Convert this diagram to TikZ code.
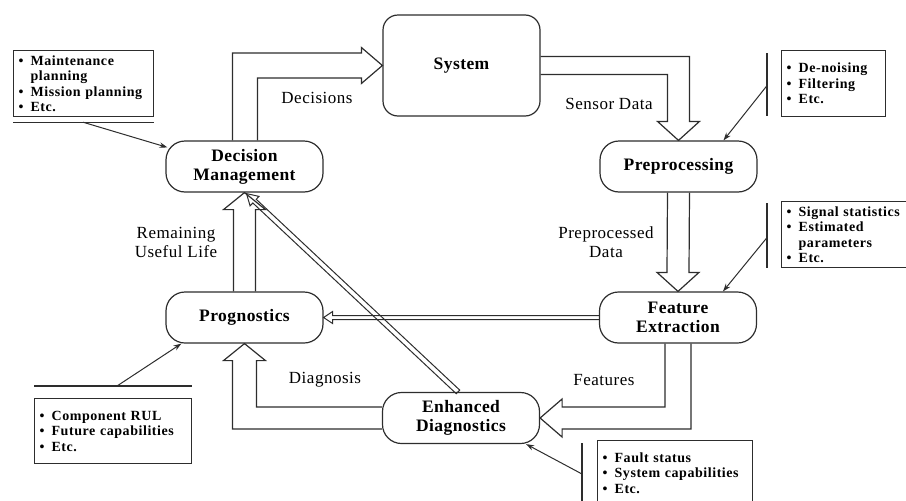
\documentclass[tikz,border=0pt]{standalone}
\usepackage{fontspec}
\setmainfont{Liberation Serif}
\usetikzlibrary{calc,arrows.meta}
\definecolor{ink}{RGB}{45,45,45}
\newcommand{\noteitem}{\makebox[12pt][l]{\textbullet}}
\newcommand{\notecont}{\hspace*{12pt}}
\begin{document}
\begin{tikzpicture}[x=1pt,y=-1pt,color=ink,line width=1.2pt,
  stage/.style={draw, rounded corners=19pt, minimum width=157pt, minimum height=51pt,
    align=center, inner sep=2pt, text=black,
    font=\fontsize{17.5}{19}\selectfont\bfseries\addfontfeatures{LetterSpace=2.5}},
  flowlabel/.style={align=center, text=black,
    font=\fontsize{17}{19}\selectfont\addfontfeatures{LetterSpace=3}},
  notebox/.style={draw, anchor=north west, align=left, text=black,
    inner xsep=5pt, inner ysep=0pt,
    font=\fontsize{14}{15.5}\selectfont\bfseries\addfontfeatures{LetterSpace=4}},
  blockarrow/.style={line width=1.2pt, line join=miter},
  thinarrow/.style={line width=1pt, line join=miter},
  pointer/.style={line width=1pt, -{Stealth[length=8pt,width=5.5pt]}},
]
\useasboundingbox (0,0) rectangle (906,501);

% process stages
\node[stage, minimum height=101pt, rounded corners=15pt] (sys) at (461.5,65.5) {System};
\node[stage] (dm)   at (244.5,166.5) {Decision\\Management};
\node[stage] (pre)  at (678.5,166.5) {Preprocessing};
\node[stage] (fe)   at (678,317.5)   {Feature\\Extraction};
\node[stage] (prog) at (244.5,317.5) {Prognostics};
\node[stage] (ed)   at (461,418)     {Enhanced\\Diagnostics};

% hollow block arrows between stages
\draw[blockarrow] ($(dm.north)+(-12,0)$) |- ($(sys.west)+(-21,-12.5)$) -- ++(0,-5.5)
  -- (sys.west) -- ($(sys.west)+(-21,18)$) -- ++(0,-5.5) -| ($(dm.north)+(13,0)$);
\draw[blockarrow] ($(sys.east)+(0,-9)$) -| ($(pre.north)+(11,-19)$) -- ++(10,0)
  -- (pre.north) -- ($(pre.north)+(-21,-19)$) -- ++(10,0) |- ($(sys.east)+(0,9)$);
\draw[blockarrow] ($(pre.south)+(-11,0)$) -- ($(fe.north)+(-11,-19)$) -- ++(-10,0)
  -- (fe.north) -- ($(fe.north)+(21,-19)$) -- ++(-10,0) -- ($(pre.south)+(11,0)$);
\draw[blockarrow] ($(fe.south)+(-13,0)$) |- ($(ed.east)+(22,-11)$) -- ++(0,-8)
  -- (ed.east) -- ($(ed.east)+(22,19)$) -- ++(0,-8) -| ($(fe.south)+(13,0)$);
\draw[blockarrow] ($(ed.west)+(0,-11)$) -| ($(prog.south)+(12,17)$) -- ++(9,0)
  -- (prog.south) -- ($(prog.south)+(-21,17)$) -- ++(9,0) |- ($(ed.west)+(0,11)$);
\draw[blockarrow] ($(prog.north)+(-11,0)$) -- ($(dm.south)+(-11,17)$) -- ++(-10,0)
  -- (dm.south) -- ($(dm.south)+(21,17)$) -- ++(-10,0) -- ($(prog.north)+(11,0)$);

% narrow hollow arrows
\draw[thinarrow] ($(fe.west)+(0,-2)$) -- ($(prog.east)+(9,-2)$) -- ++(0,-4)
  -- (prog.east) -- ($(prog.east)+(9,6)$) -- ++(0,-4) -- ($(fe.west)+(0,2)$);
\coordinate (dtip)  at ($(dm.south)+(2,1)$);
\coordinate (dtail) at ($(ed.north)+(-3,0)$);
\coordinate (dbase) at ($(dtip)!11pt!(dtail)$);
\draw[thinarrow] ($(dtail)!2.5pt!90:(dtip)$) -- ($(dbase)!2.5pt!90:(dtip)$)
  -- ($(dbase)!6.5pt!90:(dtip)$) -- (dtip) -- ($(dbase)!6.5pt!-90:(dtip)$)
  -- ($(dbase)!2.5pt!-90:(dtip)$) -- ($(dtail)!2.5pt!-90:(dtip)$) -- cycle;

% flow labels
\node[flowlabel] (lbdec)  at (317,98)  {Decisions};
\node[flowlabel] (lbsens) at (609,104) {Sensor Data};
\node[flowlabel] (lbpre)  at (606,242) {Preprocessed\\Data};
\node[flowlabel] (lbrul)  at (176,242) {Remaining\\Useful Life};
\node[flowlabel] (lbdiag) at (325,380) {Diagnosis};
\node[flowlabel] (lbfeat) at (604,380) {Features};

% annotation boxes
\node[notebox, text width=130pt, minimum height=66pt] (mbox) at (13,50)
  {\noteitem Maintenance\\\notecont planning\\\noteitem Mission planning\\\noteitem Etc.};
\draw ($(mbox.south west)+(0,5)$) -- ($(mbox.south east)+(0,5)$);
\draw[pointer] ($(mbox.south west)+(70,5)$) -- ($(dm.north west)+(2,7)$);

\node[notebox, text width=94pt, minimum height=66pt] (nbox) at (781,50)
  {\noteitem De-noising\\\noteitem Filtering\\\noteitem Etc.};
\draw ($(nbox.north west)+(-14,3)$) -- ($(nbox.south west)+(-14,-1)$);
\draw[pointer] ($(nbox.west)+(-14,2)$) -- ($(pre.north)+(45,0)$);

\node[notebox, text width=121pt, minimum height=66pt] (sbox) at (781,201)
  {\noteitem Signal statistics\\\noteitem Estimated\\\notecont parameters\\\noteitem Etc.};
\draw ($(sbox.north west)+(-14,2)$) -- ($(sbox.south west)+(-14,0)$);
\draw[pointer] ($(sbox.west)+(-14,3)$) -- ($(fe.north)+(45,0)$);

\node[notebox, text width=147pt, minimum height=65pt] (cbox) at (34,398)
  {\noteitem Component RUL\\\noteitem Future capabilities\\\noteitem Etc.};
\draw ($(cbox.north west)+(0,-12)$) -- ($(cbox.north east)+(0,-12)$);
\draw[pointer] ($(cbox.north west)+(83,-12)$) -- ($(prog.south west)+(16,0)$);

\node[notebox, text width=145pt, inner ysep=12pt] (fbox) at (597,440)
  {\noteitem Fault status\\\noteitem System capabilities\\\noteitem Etc.};
\draw ($(fbox.north west)+(-15,3)$) -- ($(fbox.north west)+(-15,75)$);
\draw[pointer] ($(fbox.north west)+(-15,34)$) -- ($(ed.south east)+(-14,0)$);
\end{tikzpicture}
\end{document}
